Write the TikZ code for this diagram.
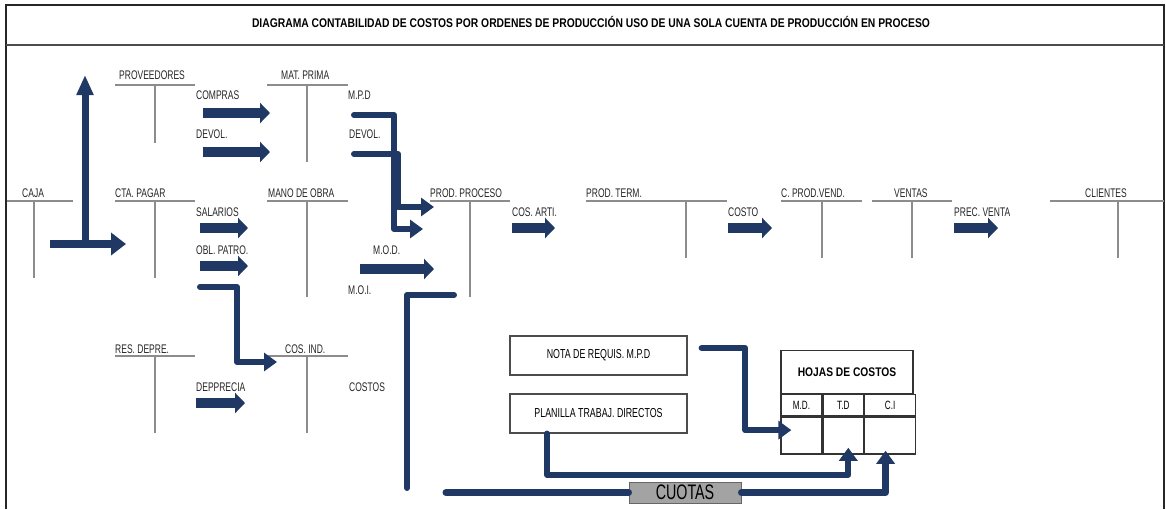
\documentclass[tikz,border=0pt]{standalone}
\usepackage{fontspec}
\newfontfamily\etiq[FakeStretch=0.68]{Liberation Sans}
\newfontfamily\titulo[FakeStretch=0.82]{Liberation Sans}
\usetikzlibrary{arrows.meta}
\definecolor{azul}{HTML}{1F3864}
\definecolor{gristabla}{HTML}{8C8C8C}
\definecolor{griscuota}{HTML}{A3A3A3}
\tikzset{
      etiqueta/.style={
          font=\etiq\fontsize{12.5}{12.5}\selectfont,
          text=black!85,
          inner sep=0pt,
          anchor=base west
      },
      tcuenta/.style={
          draw=gristabla,
          line width=1.5pt
      },
      bloque/.style={
          draw=azul,
          line width=10pt,
          -{Triangle[width=20pt,length=10pt]}
      },
      flujo/.style={
          draw=azul,
          line width=6pt,
          line cap=round,
          line join=round,
          -{Triangle[width=18pt,length=13pt]}
      },
      caja/.style={
          rectangle,
          draw=black!70,
          line width=1.2pt,
          minimum width=177pt,
          minimum height=39pt,
          font=\etiq\fontsize{13}{13}\selectfont
      },
      celda/.style={
          rectangle,
          draw=black!80,
          line width=1.3pt,
          inner sep=0pt,
          font=\etiq\fontsize{12}{12}\selectfont
      }
  }

\begin{document}
\begin{tikzpicture}[x=1pt,y=-1pt]
    \useasboundingbox (0,0) rectangle (1166,509);
    \draw[line width=2pt, black!85] (6,509) -- (6,5) -- (1164,5) -- (1164,509);
    \draw[line width=1.5pt, black!70] (6,45) -- (1164,45);
    \node[anchor=base, inner sep=0pt, font=\titulo\bfseries\fontsize{12.6}{12.6}\selectfont] (titulo) at (591,27) {DIAGRAMA CONTABILIDAD DE COSTOS POR ORDENES DE PRODUCCIÓN USO DE UNA SOLA CUENTA DE PRODUCCIÓN EN PROCESO};
    
    % cuentas T
    \draw[tcuenta] (115,85) -- (195,85) (155,85) -- (155,143);
    \draw[tcuenta] (267,85) -- (348,85) (307,85) -- (307,162);
    \draw[tcuenta] (7,201) -- (73,201) (34,201) -- (34,278);
    \draw[tcuenta] (115,201) -- (195,201) (155,201) -- (155,278);
    \draw[tcuenta] (267,201) -- (348,201) (307,201) -- (307,297);
    \draw[tcuenta] (430,201) -- (510,201) (470,201) -- (470,297);
    \draw[tcuenta] (586,201) -- (727,201) (686,201) -- (686,258);
    \draw[tcuenta] (781,201) -- (862,201) (822,201) -- (822,258);
    \draw[tcuenta] (872,201) -- (952,201) (912,201) -- (912,258);
    \draw[tcuenta] (1050,201) -- (1164,201) (1118,201) -- (1118,258);
    \draw[tcuenta] (115,356) -- (195,356) (155,356) -- (155,433);
    \draw[tcuenta] (268,356) -- (348,356) (307,356) -- (307,433);
    
    \node[etiqueta] (proveedores) at (119,79) {PROVEEDORES};
    \node[etiqueta] (matprima) at (281,79) {MAT. PRIMA};
    \node[etiqueta] (compras) at (196,99) {COMPRAS};
    \node[etiqueta] (devolprov) at (196,138) {DEVOL.};
    \node[etiqueta] (mpd) at (348,99) {M.P.D};
    \node[etiqueta] (devolmat) at (349,138) {DEVOL.};
    \node[etiqueta] (caja) at (22,197) {CAJA};
    \node[etiqueta] (ctapagar) at (115,197) {CTA. PAGAR};
    \node[etiqueta] (manoobra) at (268,197) {MANO DE OBRA};
    \node[etiqueta] (prodproceso) at (430,197) {PROD. PROCESO};
    \node[etiqueta] (prodterm) at (586,197) {PROD. TERM.};
    \node[etiqueta] (cprodvend) at (781,197) {C. PROD.VEND.};
    \node[etiqueta] (ventas) at (894,197) {VENTAS};
    \node[etiqueta] (clientes) at (1085,197) {CLIENTES};
    \node[etiqueta] (salarios) at (196,216) {SALARIOS};
    \node[etiqueta] (oblpatro) at (196,254) {OBL. PATRO.};
    \node[etiqueta] (cosarti) at (512,216) {COS. ARTI.};
    \node[etiqueta] (costo) at (728,216) {COSTO};
    \node[etiqueta] (precventa) at (954,216) {PREC. VENTA};
    \node[etiqueta] (mod) at (373,254) {M.O.D.};
    \node[etiqueta] (moi) at (348,294) {M.O.I.};
    \node[etiqueta] (resdepre) at (115,353) {RES. DEPRE.};
    \node[etiqueta] (cosind) at (285,353) {COS. IND.};
    \node[etiqueta] (depprecia) at (196,391) {DEPPRECIA};
    \node[etiqueta] (costos) at (349,391) {COSTOS};
    
    % flechas de asiento
    \draw[bloque] ([xshift=7pt,yshift=-14pt]compras.base west) -- ++(67,0);
    \draw[bloque] ([xshift=7pt,yshift=-14pt]devolprov.base west) -- ++(67,0);
    \draw[bloque] ([xshift=4pt,yshift=-12pt]salarios.base west) -- ++(48,0);
    \draw[bloque] ([xshift=4pt,yshift=-12pt]oblpatro.base west) -- ++(48,0);
    \draw[bloque] ([yshift=-12pt]cosarti.base west) -- ++(43,0);
    \draw[bloque] ([yshift=-12pt]costo.base west) -- ++(44,0);
    \draw[bloque] ([yshift=-12pt]precventa.base west) -- ++(44,0);
    \draw[bloque] ([xshift=-13pt,yshift=-15pt]mod.base west) -- ++(74,0);
    \draw[bloque] ([yshift=-12pt]depprecia.base west) -- ++(49,0);
    
    % documentos y hoja de costos
    \node[caja] (nota) at (598.5,355.5) {NOTA DE REQUIS. M.P.D};
    \node[caja] (planilla) at (598.5,413.5) {PLANILLA TRABAJ. DIRECTOS};
    \node[celda, minimum width=132pt, minimum height=43pt, font=\titulo\bfseries\fontsize{12.5}{12.5}\selectfont] (hojas) at (847,372) {HOJAS DE COSTOS};
    \node[celda, minimum width=41pt, minimum height=21pt, anchor=north west] (md) at (hojas.south west) {M.D.};
    \node[celda, minimum width=40pt, minimum height=21pt, anchor=north west] (td) at (md.north east) {T.D};
    \node[celda, minimum width=51pt, minimum height=21pt, anchor=north west] (ci) at (td.north east) {C.I};
    \node[celda, minimum width=41pt, minimum height=37pt, anchor=north] (mdcuerpo) at (md.south) {};
    \node[celda, minimum width=40pt, minimum height=37pt, anchor=north] (tdcuerpo) at (td.south) {};
    \node[celda, minimum width=51pt, minimum height=37pt, anchor=north] (cicuerpo) at (ci.south) {};
    \node[rectangle, draw=black!60, fill=griscuota, line width=1pt, minimum width=112pt, minimum height=21pt, inner sep=0pt, font=\etiq\fontsize{21}{21}\selectfont] (cuotas) at (685,492.5) {CUOTAS};
    
    % conexiones
    \coordinate (cajasal) at (50,244);
    \coordinate (cajaret) at (85,244);
    \coordinate (ctaent) at (126,244);
    \coordinate (provent) at (85,75);
    \draw[flujo, line width=8pt, line cap=butt, -{Triangle[width=22pt,length=15pt]}] (cajasal) -- (ctaent);
    \draw[flujo, line width=7pt, -{Triangle[width=16pt,length=20pt]}] (cajaret) -- (provent);
    
    \coordinate (mpdsal) at (354,115);
    \coordinate (ppent1) at (423,229);
    \coordinate (devolsal) at (354,154);
    \coordinate (ppent2) at (434,207);
    \draw[flujo] (mpdsal) -| ([xshift=-29pt]ppent1) -- (ppent1);
    \draw[flujo] (devolsal) -| ([xshift=-36pt]ppent2) -- (ppent2);
    
    \coordinate (cifsal) at (200,287);
    \coordinate (cifent) at (277,362);
    \draw[flujo] (cifsal) -| ([xshift=-40pt]cifent) -- (cifent);
    
    \coordinate (moisal) at (454,295);
    \coordinate (moifin) at (407,488);
    \draw[flujo, -] (moisal) -| (moifin);
    
    \coordinate (cuotasal) at (446,492.5);
    \draw[flujo, -, line width=7pt] (cuotasal) -- (cuotas.west);
    \draw[flujo, line width=7pt] (cuotas.east) -| ([xshift=-4.5pt,yshift=4pt]cicuerpo.south);
    \draw[flujo] ([xshift=-51.5pt]planilla.south) |- ([xshift=5pt,yshift=-20pt]tdcuerpo.south) -- ([xshift=5pt,yshift=7pt]tdcuerpo.south);
    \draw[flujo] ([xshift=14pt,yshift=7.5pt]nota.east) -| ([xshift=-35pt,yshift=5.5pt]mdcuerpo.west) -- ([xshift=11pt,yshift=5.5pt]mdcuerpo.west);
\end{tikzpicture}
\end{document}
